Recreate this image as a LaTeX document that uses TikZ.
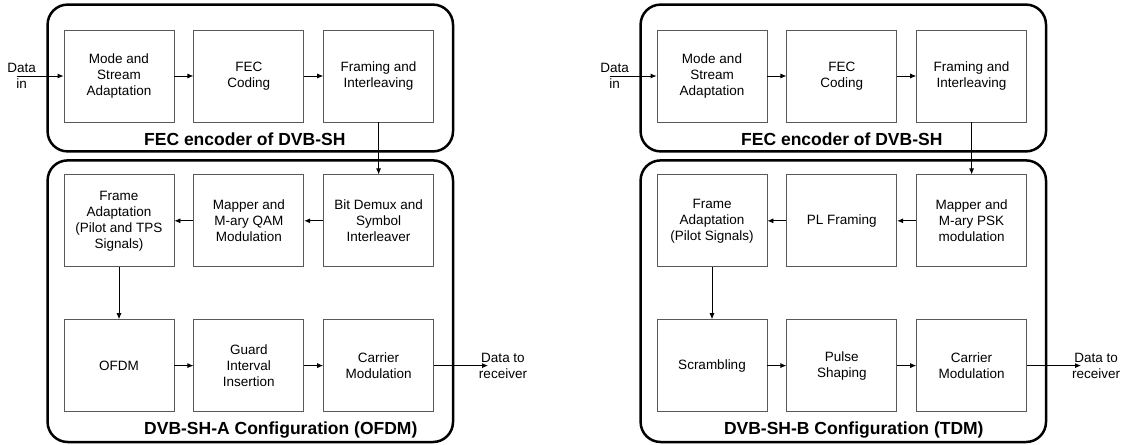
\documentclass[tikz,border=0pt]{standalone}
\usepackage{fontspec}
\setmainfont{Liberation Sans}
\usepackage{tikz}
\usetikzlibrary{positioning, arrows.meta, calc}

\begin{document}
\begin{tikzpicture}[x=1pt, y=1pt]
	% Define styles
	\tikzset{
		block/.style={rectangle, draw=black!65, line width=0.8pt, minimum width=110pt, minimum height=92pt, align=center, inner sep=2pt, font=\fontsize{13.5}{16}\selectfont},
		line/.style={draw, line width=0.8pt, -{Latex[length=6pt, width=5pt]}},
		outer/.style={draw, line width=2.5pt, rounded corners=20pt},
		note/.style={align=center, inner sep=0pt, font=\fontsize{13.5}{16}\selectfont},
		grouptitle/.style={inner sep=0pt, font=\fontsize{17.5}{20}\selectfont\bfseries}
	}
	\useasboundingbox (0,0) rectangle (1126,-444);
	
	% Nodes -- DVB-SH-A (OFDM)
	\node[block] (ma) at (119,-76) {Mode and\\Stream\\Adaptation};
	\node[block, right=19pt of ma] (feca) {FEC\\Coding};
	\node[block, right=19pt of feca] (fia) {Framing and\\Interleaving};
	
	\node[block, below=52pt of fia] (bda) {Bit Demux and\\Symbol\\Interleaver};
	\node[block, left=19pt of bda] (mqa) {Mapper and\\M-ary QAM\\Modulation};
	\node[block, left=19pt of mqa] (faa) {Frame\\Adaptation\\(Pilot and TPS\\Signals)};
	
	\node[block, below=52pt of faa] (ofa) {OFDM};
	\node[block, right=19pt of ofa] (gia) {Guard\\Interval\\Insertion};
	\node[block, right=19pt of gia] (cma) {Carrier\\Modulation};
	
	\node[note] (dina) at ($(ma.west)+(-42,0)$) {Data\\in};
	\coordinate (ina) at ($(ma.west)+(-47,0)$);
	\node[note] (rxa) at ($(cma.east)+(69,0)$) {Data to\\receiver};
	\coordinate (outa) at ($(cma.east)+(54,0)$);
	
	\draw[outer] ($(ma.north west)+(-16,25)$) rectangle ($(fia.south east)+(19,-29)$);
	\draw[outer] ($(faa.north west)+(-16,14)$) rectangle ($(cma.south east)+(19,-30)$);
	\node[grouptitle] (ta1) at ($(feca.south)+(-4,-17)$) {FEC encoder of DVB-SH};
	\node[grouptitle] (ta2) at ($(gia.south)+(32,-18)$) {DVB-SH-A Configuration (OFDM)};
	
	% Nodes -- DVB-SH-B (TDM)
	\node[block] (mb) at (712,-76) {Mode and\\Stream\\Adaptation};
	\node[block, right=19pt of mb] (fecb) {FEC\\Coding};
	\node[block, right=19pt of fecb] (fib) {Framing and\\Interleaving};
	
	\node[block, below=52pt of fib] (mpb) {Mapper and\\M-ary PSK\\modulation};
	\node[block, left=19pt of mpb] (plb) {PL Framing};
	\node[block, left=19pt of plb] (fab) {Frame\\Adaptation\\(Pilot Signals)};
	
	\node[block, below=52pt of fab] (scb) {Scrambling};
	\node[block, right=19pt of scb] (psb) {Pulse\\Shaping};
	\node[block, right=19pt of psb] (cmb) {Carrier\\Modulation};
	
	\node[note] (dinb) at ($(mb.west)+(-42,0)$) {Data\\in};
	\coordinate (inb) at ($(mb.west)+(-47,0)$);
	\node[note] (rxb) at ($(cmb.east)+(69,0)$) {Data to\\receiver};
	\coordinate (outb) at ($(cmb.east)+(54,0)$);
	
	\draw[outer] ($(mb.north west)+(-16,25)$) rectangle ($(fib.south east)+(19,-29)$);
	\draw[outer] ($(fab.north west)+(-16,14)$) rectangle ($(cmb.south east)+(19,-30)$);
	\node[grouptitle] (tb1) at ($(fecb.south)+(0,-17)$) {FEC encoder of DVB-SH};
	\node[grouptitle] (tb2) at ($(psb.south)+(12,-18)$) {DVB-SH-B Configuration (TDM)};
	
	% Arrows
	\draw[line] (ina) -- (ma);
	\draw[line] (ma) -- (feca);
	\draw[line] (feca) -- (fia);
	\draw[line] (fia) -- (bda);
	\draw[line] (bda) -- (mqa);
	\draw[line] (mqa) -- (faa);
	\draw[line] (faa) -- (ofa);
	\draw[line] (ofa) -- (gia);
	\draw[line] (gia) -- (cma);
	\draw[line] (cma) -- (outa);
	
	\draw[line] (inb) -- (mb);
	\draw[line] (mb) -- (fecb);
	\draw[line] (fecb) -- (fib);
	\draw[line] (fib) -- (mpb);
	\draw[line] (mpb) -- (plb);
	\draw[line] (plb) -- (fab);
	\draw[line] (fab) -- (scb);
	\draw[line] (scb) -- (psb);
	\draw[line] (psb) -- (cmb);
	\draw[line] (cmb) -- (outb);
	
\end{tikzpicture}
\end{document}
